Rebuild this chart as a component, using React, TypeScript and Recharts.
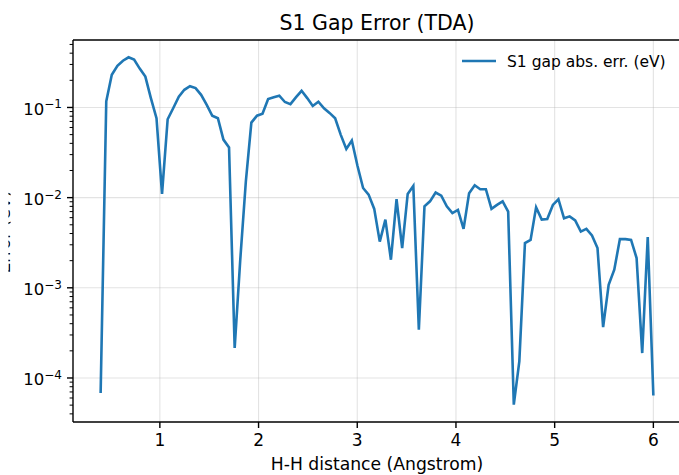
import React from 'react';
import { LineChart, Line, XAxis, YAxis, ReferenceLine } from 'recharts';

// H-H distance grid (Angstrom)
const distances = [
  0.4, 0.457, 0.513, 0.57, 0.626, 0.683, 0.739, 0.796, 0.853, 0.909,
  0.966, 1.022, 1.079, 1.135, 1.192, 1.248, 1.305, 1.362, 1.418, 1.475,
  1.531, 1.588, 1.644, 1.701, 1.758, 1.814, 1.871, 1.927, 1.984, 2.04,
  2.097, 2.154, 2.21, 2.267, 2.323, 2.38, 2.436, 2.493, 2.549, 2.606,
  2.663, 2.719, 2.776, 2.832, 2.889, 2.945, 3.002, 3.059, 3.115, 3.172,
  3.228, 3.285, 3.341, 3.398, 3.455, 3.511, 3.568, 3.624, 3.681, 3.737,
  3.794, 3.851, 3.907, 3.964, 4.02, 4.077, 4.133, 4.19, 4.246, 4.303,
  4.36, 4.416, 4.473, 4.529, 4.586, 4.642, 4.699, 4.756, 4.812, 4.869,
  4.925, 4.982, 5.038, 5.095, 5.152, 5.208, 5.265, 5.321, 5.378, 5.434,
  5.491, 5.547, 5.604, 5.661, 5.717, 5.774, 5.83, 5.887, 5.943, 6.0,
];

// S1 gap absolute error (eV)
const gapErrors = [
  6.8e-5, 0.117, 0.23, 0.29, 0.33, 0.36, 0.34, 0.27, 0.22, 0.127,
  0.076, 0.011, 0.074, 0.098, 0.132, 0.157, 0.172, 0.164, 0.138, 0.107,
  0.081, 0.076, 0.044, 0.036, 2.15e-4, 2.0e-3, 0.015, 0.068, 0.081, 0.085,
  0.124, 0.13, 0.135, 0.115, 0.109, 0.13, 0.153, 0.127, 0.104, 0.116,
  0.098, 0.087, 0.076, 0.05, 0.0346, 0.043, 0.0226, 0.0128, 0.0108, 0.0075,
  3.25e-3, 5.7e-3, 2.05e-3, 9.6e-3, 2.76e-3, 0.011, 0.0135, 3.43e-4, 8.0e-3, 9.1e-3,
  0.0114, 0.0105, 8.0e-3, 6.75e-3, 7.3e-3, 4.5e-3, 0.0112, 0.0137, 0.0124, 0.0124,
  7.5e-3, 8.3e-3, 9.1e-3, 7.0e-3, 5.06e-5, 1.53e-4, 3.14e-3, 3.4e-3, 7.8e-3, 5.7e-3,
  5.8e-3, 8.3e-3, 9.6e-3, 5.9e-3, 6.2e-3, 5.6e-3, 4.2e-3, 4.5e-3, 3.8e-3, 2.76e-3,
  3.67e-4, 1.08e-3, 1.59e-3, 3.47e-3, 3.47e-3, 3.4e-3, 2.14e-3, 1.89e-4, 3.66e-3, 6.4e-5,
];

const xTicks = [1, 2, 3, 4, 5, 6];
const yMajorTicks = [1e-4, 1e-3, 1e-2, 1e-1];
const xDomain = [0.12, 6.28];
const yDomain = [3.25e-5, 0.56];

const title = 'S1 Gap Error (TDA)';
const xLabel = 'H-H distance (Angstrom)';
const yLabel = 'Error (eV)';
const seriesName = 'S1 gap abs. err. (eV)';

const data = distances.map((d, i) => ({ d, err: gapErrors[i] }));

// log minor ticks (2..9 x decade) inside the domain
const yTicks: number[] = [];
for (let e = -5; e <= 0; e++) {
  for (let m = 1; m <= 9; m++) {
    const v = m * Math.pow(10, e);
    if (v >= yDomain[0] && v <= yDomain[1]) yTicks.push(v);
  }
}

const FONT = '"DejaVu Sans", sans-serif';
const BLUE = '#1f77b4';

const YTick = (props: any) => {
  const { x, y, payload } = props;
  const v = payload.value;
  const lg = Math.log10(v);
  const exp = Math.round(lg);
  const major = Math.abs(lg - exp) < 1e-6;
  if (!major) {
    return <line x1={x - 3.4} x2={x} y1={y} y2={y} stroke="#000" strokeWidth={1} />;
  }
  return (
    <g>
      <line x1={x - 6} x2={x} y1={y} y2={y} stroke="#000" strokeWidth={1.4} />
      <text x={x - 11} y={y + 7.5} textAnchor="end" fontFamily={FONT} fontSize={16.5} fill="#000">
        <tspan>10</tspan>
        <tspan dy={-6.5} fontSize={12}>{'\u2212' + Math.abs(exp)}</tspan>
      </text>
    </g>
  );
};

export default function App() {
  return (
    <div style={{ position: 'absolute', left: 0, top: 0, width: 679, height: 475, overflow: 'hidden', background: '#fff' }}>
      <LineChart width={690} height={475} data={data} margin={{ top: 40, right: 9, bottom: 0, left: 0 }}>
        {xTicks.map((t) => (
          <ReferenceLine key={'gx' + t} x={t} stroke="#b0b0b0" strokeOpacity={0.35} strokeWidth={1.1} />
        ))}
        {yMajorTicks.map((t) => (
          <ReferenceLine key={'gy' + t} y={t} stroke="#b0b0b0" strokeOpacity={0.35} strokeWidth={1.1} />
        ))}
        <ReferenceLine y={yDomain[1]} stroke="#000" strokeWidth={1.4} />
        <XAxis
          dataKey="d"
          type="number"
          domain={xDomain}
          allowDataOverflow
          ticks={xTicks}
          interval={0}
          height={53}
          tickSize={6}
          tickMargin={6}
          axisLine={{ stroke: '#000', strokeWidth: 1.4 }}
          tickLine={{ stroke: '#000', strokeWidth: 1.4 }}
          tick={{ fill: '#000', fontSize: 17, fontFamily: FONT }}
        />
        <YAxis
          dataKey="err"
          type="number"
          scale="log"
          domain={yDomain}
          allowDataOverflow
          ticks={yTicks}
          interval={0}
          width={73}
          tickSize={0}
          tickMargin={0}
          axisLine={{ stroke: '#000', strokeWidth: 1.4 }}
          tickLine={false}
          tick={YTick}
        />
        <Line
          type="linear"
          dataKey="err"
          stroke={BLUE}
          strokeWidth={2.6}
          dot={false}
          isAnimationActive={false}
        />
      </LineChart>
      <svg width={679} height={475} style={{ position: 'absolute', left: 0, top: 0, pointerEvents: 'none' }}>
        <defs>
          {/* the reference shows only the clipped edge of the y label */}
          <clipPath id="ylabel-clip">
            <rect x={8.4} y={150} width={2.2} height={170} />
          </clipPath>
        </defs>
        <text x={377} y={30} textAnchor="middle" fontFamily={FONT} fontSize={20.5} fill="#000">
          {title}
        </text>
        <text x={377} y={470} textAnchor="middle" fontFamily={FONT} fontSize={17.2} fill="#000">
          {xLabel}
        </text>
        <g clipPath="url(#ylabel-clip)">
          <text
            x={9.6}
            y={232}
            textAnchor="middle"
            transform="rotate(-90 9.6 232)"
            fontFamily={FONT}
            fontSize={17.2}
            fill="#000"
          >
            {yLabel}
          </text>
        </g>
        <line x1={462} x2={496} y1={61} y2={61} stroke={BLUE} strokeWidth={2.6} />
        <text x={507} y={66.5} fontFamily={FONT} fontSize={15.5} fill="#000">
          {seriesName}
        </text>
      </svg>
    </div>
  );
}
